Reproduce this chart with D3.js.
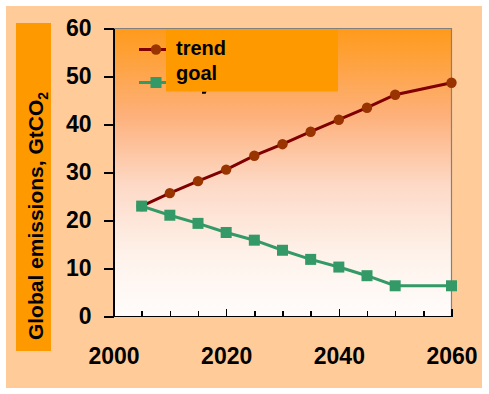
<!DOCTYPE html>
<html>
<head>
	<meta charset="utf-8">
	<style>
		body {
			margin: 0;
			background: white;
			font-family: "Liberation Sans", Arial, sans-serif;
		}
		.axis text {
			font-size: 23px;
			font-weight: bold;
			fill: black;
		}
		.axis path, .axis line {
			stroke: black;
			stroke-width: 1.5px;
			shape-rendering: crispEdges;
		}
		.legend text {
			font-size: 20px;
			font-weight: bold;
		}
	</style>
	<script src="https://d3js.org/d3.v7.min.js"></script>
</head>
<body>
	<script>
		var years = [2005, 2010, 2015, 2020, 2025, 2030, 2035, 2040, 2045, 2050, 2060];
		var trend = [23.0, 25.7, 28.2, 30.6, 33.5, 35.9, 38.5, 41.0, 43.5, 46.2, 48.7];
		var goal = [23.0, 21.1, 19.4, 17.5, 15.9, 13.8, 11.9, 10.3, 8.5, 6.4, 6.4];
		var y_ticks = [0, 10, 20, 30, 40, 50, 60];
		var x_ticks = [2000, 2005, 2010, 2015, 2020, 2025, 2030, 2035, 2040, 2045, 2050, 2055, 2060];
		var x_labels = [2000, 2020, 2040, 2060];
		var series_names = ['trend', 'goal'];

		var width = 489, height = 394,
			plot = {left: 113.5, top: 28.5, right: 451.5, bottom: 316.5};

		var svg = d3.select('body').append('svg')
			.attr('width', width)
			.attr('height', height);

		// background panel
		svg.append('rect')
			.attr('x', 6).attr('y', 6)
			.attr('width', 476).attr('height', 382)
			.attr('fill', '#ffcc99');

		// plot gradient
		var grad = svg.append('defs').append('linearGradient')
			.attr('id', 'bg')
			.attr('x1', 0).attr('y1', 0).attr('x2', 0).attr('y2', 1);
		[[0, '#ff9a1a'], [0.3, '#fdb07a'], [0.55, '#fddac8'], [0.8, '#fef3ec'], [1, '#fffcfb']]
			.forEach(s => grad.append('stop').attr('offset', s[0]).attr('stop-color', s[1]));

		var x = d3.scaleLinear().domain([2000, 2060]).range([plot.left, plot.right]);
		var y = d3.scaleLinear().domain([0, 60]).range([plot.bottom, plot.top]);

		svg.append('rect')
			.attr('x', plot.left).attr('y', plot.top)
			.attr('width', plot.right - plot.left)
			.attr('height', plot.bottom - plot.top)
			.attr('fill', 'url(#bg)');

		// grey frame top and right
		svg.append('path')
			.attr('d', 'M' + plot.left + ',' + plot.top + 'H' + plot.right + 'V' + plot.bottom)
			.attr('fill', 'none')
			.attr('stroke', '#808080')
			.attr('stroke-width', 1.2);

		// y axis title
		svg.append('rect')
			.attr('x', 16).attr('y', 23)
			.attr('width', 35).attr('height', 328)
			.attr('fill', '#ff9900');

		var title = svg.append('text')
			.attr('transform', 'translate(43,216) rotate(-90)')
			.attr('text-anchor', 'middle')
			.style('font-size', '21px')
			.style('font-weight', 'bold')
			.text('Global emissions, GtCO');
		title.append('tspan')
			.attr('dy', 5)
			.style('font-size', '14px')
			.text('2');

		// axes
		var axis_y = d3.axisLeft(y)
			.tickValues(y_ticks)
			.tickSize(10)
			.tickPadding(12)
			.tickSizeOuter(0);

		svg.append('g')
			.attr('class', 'axis y')
			.attr('transform', 'translate(' + plot.left + ',0)')
			.call(axis_y);

		var axis_x = d3.axisBottom(x)
			.tickValues(x_ticks)
			.tickSize(-6)
			.tickPadding(31)
			.tickSizeOuter(0)
			.tickFormat(d => x_labels.indexOf(d) >= 0 ? d : '');

		var gx = svg.append('g')
			.attr('class', 'axis x')
			.attr('transform', 'translate(0,' + plot.bottom + ')')
			.call(axis_x);
		gx.selectAll('.tick line')
			.attr('y2', d => x_labels.indexOf(d) >= 0 ? -8 : -6);
		gx.select('.domain')
			.attr('d', 'M' + (plot.left - 10) + ',0H' + plot.right);

		// series
		var line = d3.line()
			.x(d => x(d[0]))
			.y(d => y(d[1]));

		var trend_pts = years.map((yr, i) => [yr, trend[i]]);
		var goal_pts = years.map((yr, i) => [yr, goal[i]]);

		svg.append('path')
			.datum(trend_pts)
			.attr('d', line)
			.attr('fill', 'none')
			.attr('stroke', '#800000')
			.attr('stroke-width', 3);

		svg.selectAll('circle.trend')
			.data(trend_pts)
			.enter().append('circle')
			.attr('class', 'trend')
			.attr('cx', d => x(d[0]))
			.attr('cy', d => y(d[1]))
			.attr('r', 5.2)
			.attr('fill', '#993300');

		svg.append('path')
			.datum(goal_pts)
			.attr('d', line)
			.attr('fill', 'none')
			.attr('stroke', '#339966')
			.attr('stroke-width', 3);

		svg.selectAll('rect.goal')
			.data(goal_pts)
			.enter().append('rect')
			.attr('class', 'goal')
			.attr('x', d => x(d[0]) - 5.5)
			.attr('y', d => y(d[1]) - 5.5)
			.attr('width', 11)
			.attr('height', 11)
			.attr('fill', '#339966');

		// legend
		var legend = svg.append('g').attr('class', 'legend');

		legend.append('line')
			.attr('x1', 139).attr('x2', 170).attr('y1', 49.5).attr('y2', 49.5)
			.attr('stroke', '#800000').attr('stroke-width', 3);
		legend.append('circle')
			.attr('cx', 156).attr('cy', 49.5).attr('r', 5.2)
			.attr('fill', '#993300');
		legend.append('line')
			.attr('x1', 139).attr('x2', 170).attr('y1', 82.5).attr('y2', 82.5)
			.attr('stroke', '#339966').attr('stroke-width', 3);
		legend.append('rect')
			.attr('x', 150.5).attr('y', 77).attr('width', 11).attr('height', 11)
			.attr('fill', '#339966');
		// bit of an old label peeking out below the box
		legend.append('path')
			.attr('d', 'M202,91.5h4.5l-0.8,2.2h-3.7z')
			.attr('fill', 'black');

		legend.append('rect')
			.attr('x', 166).attr('y', 29.5)
			.attr('width', 172).attr('height', 62)
			.attr('fill', '#ff9900');

		legend.selectAll('text.name')
			.data(series_names)
			.enter().append('text')
			.attr('class', 'name')
			.attr('x', 176)
			.attr('y', (d, i) => 55 + i * 24.5)
			.text(d => d);
	</script>
</body>
</html>
